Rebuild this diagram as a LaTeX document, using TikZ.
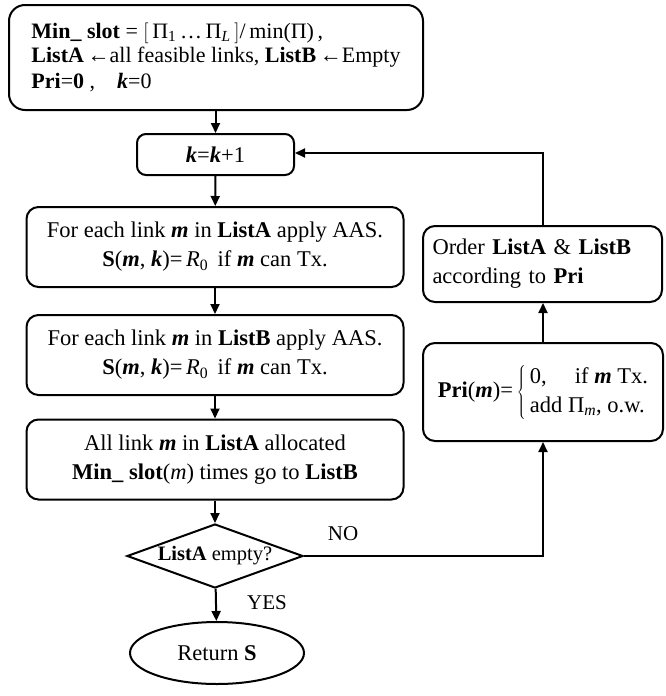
\documentclass[tikz,border=0pt]{standalone}
\usepackage{fontspec}
\setmainfont{Liberation Serif}
\usetikzlibrary{arrows.meta,shapes.geometric}
\newcommand{\bi}[1]{\textbf{\textit{#1}}}
\newcommand{\sbs}[1]{\textsubscript{#1}}
\tikzset{
  every node/.style={font=\fontsize{22.5}{29}\selectfont, inner sep=0pt},
  procbox/.style={draw, line width=2pt, rounded corners=12pt, align=center,
    minimum width=377pt, minimum height=80pt},
  flow/.style={line width=2pt, -{Triangle[length=10pt,width=9pt]}},
  lbl/.style={font=\fontsize{21}{24}\selectfont}
}
\begin{document}
\begin{tikzpicture}[x=1pt,y=-1pt]
\useasboundingbox (0,0) rectangle (665,696);

% initialisation
\node[draw, line width=2pt, rounded corners=16pt, minimum width=414pt,
  minimum height=105pt, align=left,
  font=\fontsize{22}{26}\selectfont] (init) at (216,57.5)
  {\textbf{Min\_ slot} = $\Bigl[$\,Π\sbs{1}\,…\,Π\sbs{\textit{L}}\,$\Bigr]$/\,min(Π)\,,\\[-2pt]
   \textbf{ListA}\,←all feasible links, \textbf{ListB}\,←Empty\\
   \textbf{Pri}=\textbf{0} ,\quad \bi{k}=0};

% counter
\node[draw, line width=2pt, rounded corners=9pt, minimum width=157pt,
  minimum height=41pt] (inc) at (215.5,154.5) {\bi{k}=\bi{k}+1};

% scheduling steps
\node[procbox] (sa) at (215,247)
  {For each link \bi{m} in \textbf{ListA} apply AAS.\\
   \textbf{S}(\bi{m}, \bi{k})=\,\textit{R}\sbs{0}\, if \bi{m} can Tx.};
\node[procbox] (sb) at (215,355)
  {For each link \bi{m} in \textbf{ListB} apply AAS.\\
   \textbf{S}(\bi{m}, \bi{k})=\,\textit{R}\sbs{0}\, if \bi{m} can Tx.};
\node[procbox] (mv) at (215,459.5)
  {All link \bi{m} in \textbf{ListA} allocated\\
   \textbf{Min\_ slot}(\textit{m}) times go to \textbf{ListB}};

% decision and end
\node[draw, diamond, line width=2pt, minimum width=176pt, minimum height=64pt,
  aspect=2.75, font=\fontsize{20.5}{24}\selectfont] (dec) at (215,556) {\textbf{ListA} empty?};
\node[draw, ellipse, line width=2pt, minimum width=174pt, minimum height=62pt]
  (ret) at (217,653) {Return \textbf{S}};

% priority update
\node[draw, line width=2pt, rounded corners=12pt, minimum width=240pt,
  minimum height=98pt] (pri) at (543,392)
  {\textbf{Pri}(\bi{m})=\,$\left\{\vphantom{\begin{tabular}{l}0\\0\end{tabular}}\right.$\begin{tabular}{@{\hspace{3pt}}l@{}}0,\quad\ if \bi{m} Tx.\\ add Π\sbs{\textit{m}}, o.w.\end{tabular}};
\node[draw, line width=2pt, rounded corners=12pt, minimum width=239pt,
  minimum height=76pt, text width=220pt, align=left] (ord) at (542.5,264)
  {Order \textbf{ListA} \& \textbf{ListB}\\ according to \textbf{Pri}};

% connectors
\draw[flow] (init.south -| inc) -- (inc.north);
\draw[flow] (inc) -- (sa);
\draw[flow] (sa) -- (sb);
\draw[flow] (sb) -- (mv);
\draw[flow] (mv) -- (dec);
\draw[flow] (dec) -- (ret);
\coordinate (c1) at (543,556);
\coordinate (c2) at (543,153);
\draw[flow] (dec.east) -- (c1) -- (c1 |- pri.south);
\draw[flow] (pri.north -| c1) -- (c1 |- ord.south);
\draw[flow] (ord.north -| c1) -- (c2) -- (c2 -| inc.east);

\node[lbl] (no) at (343,534) {NO};
\node[lbl] (yes) at (267,603) {YES};
\end{tikzpicture}
\end{document}
